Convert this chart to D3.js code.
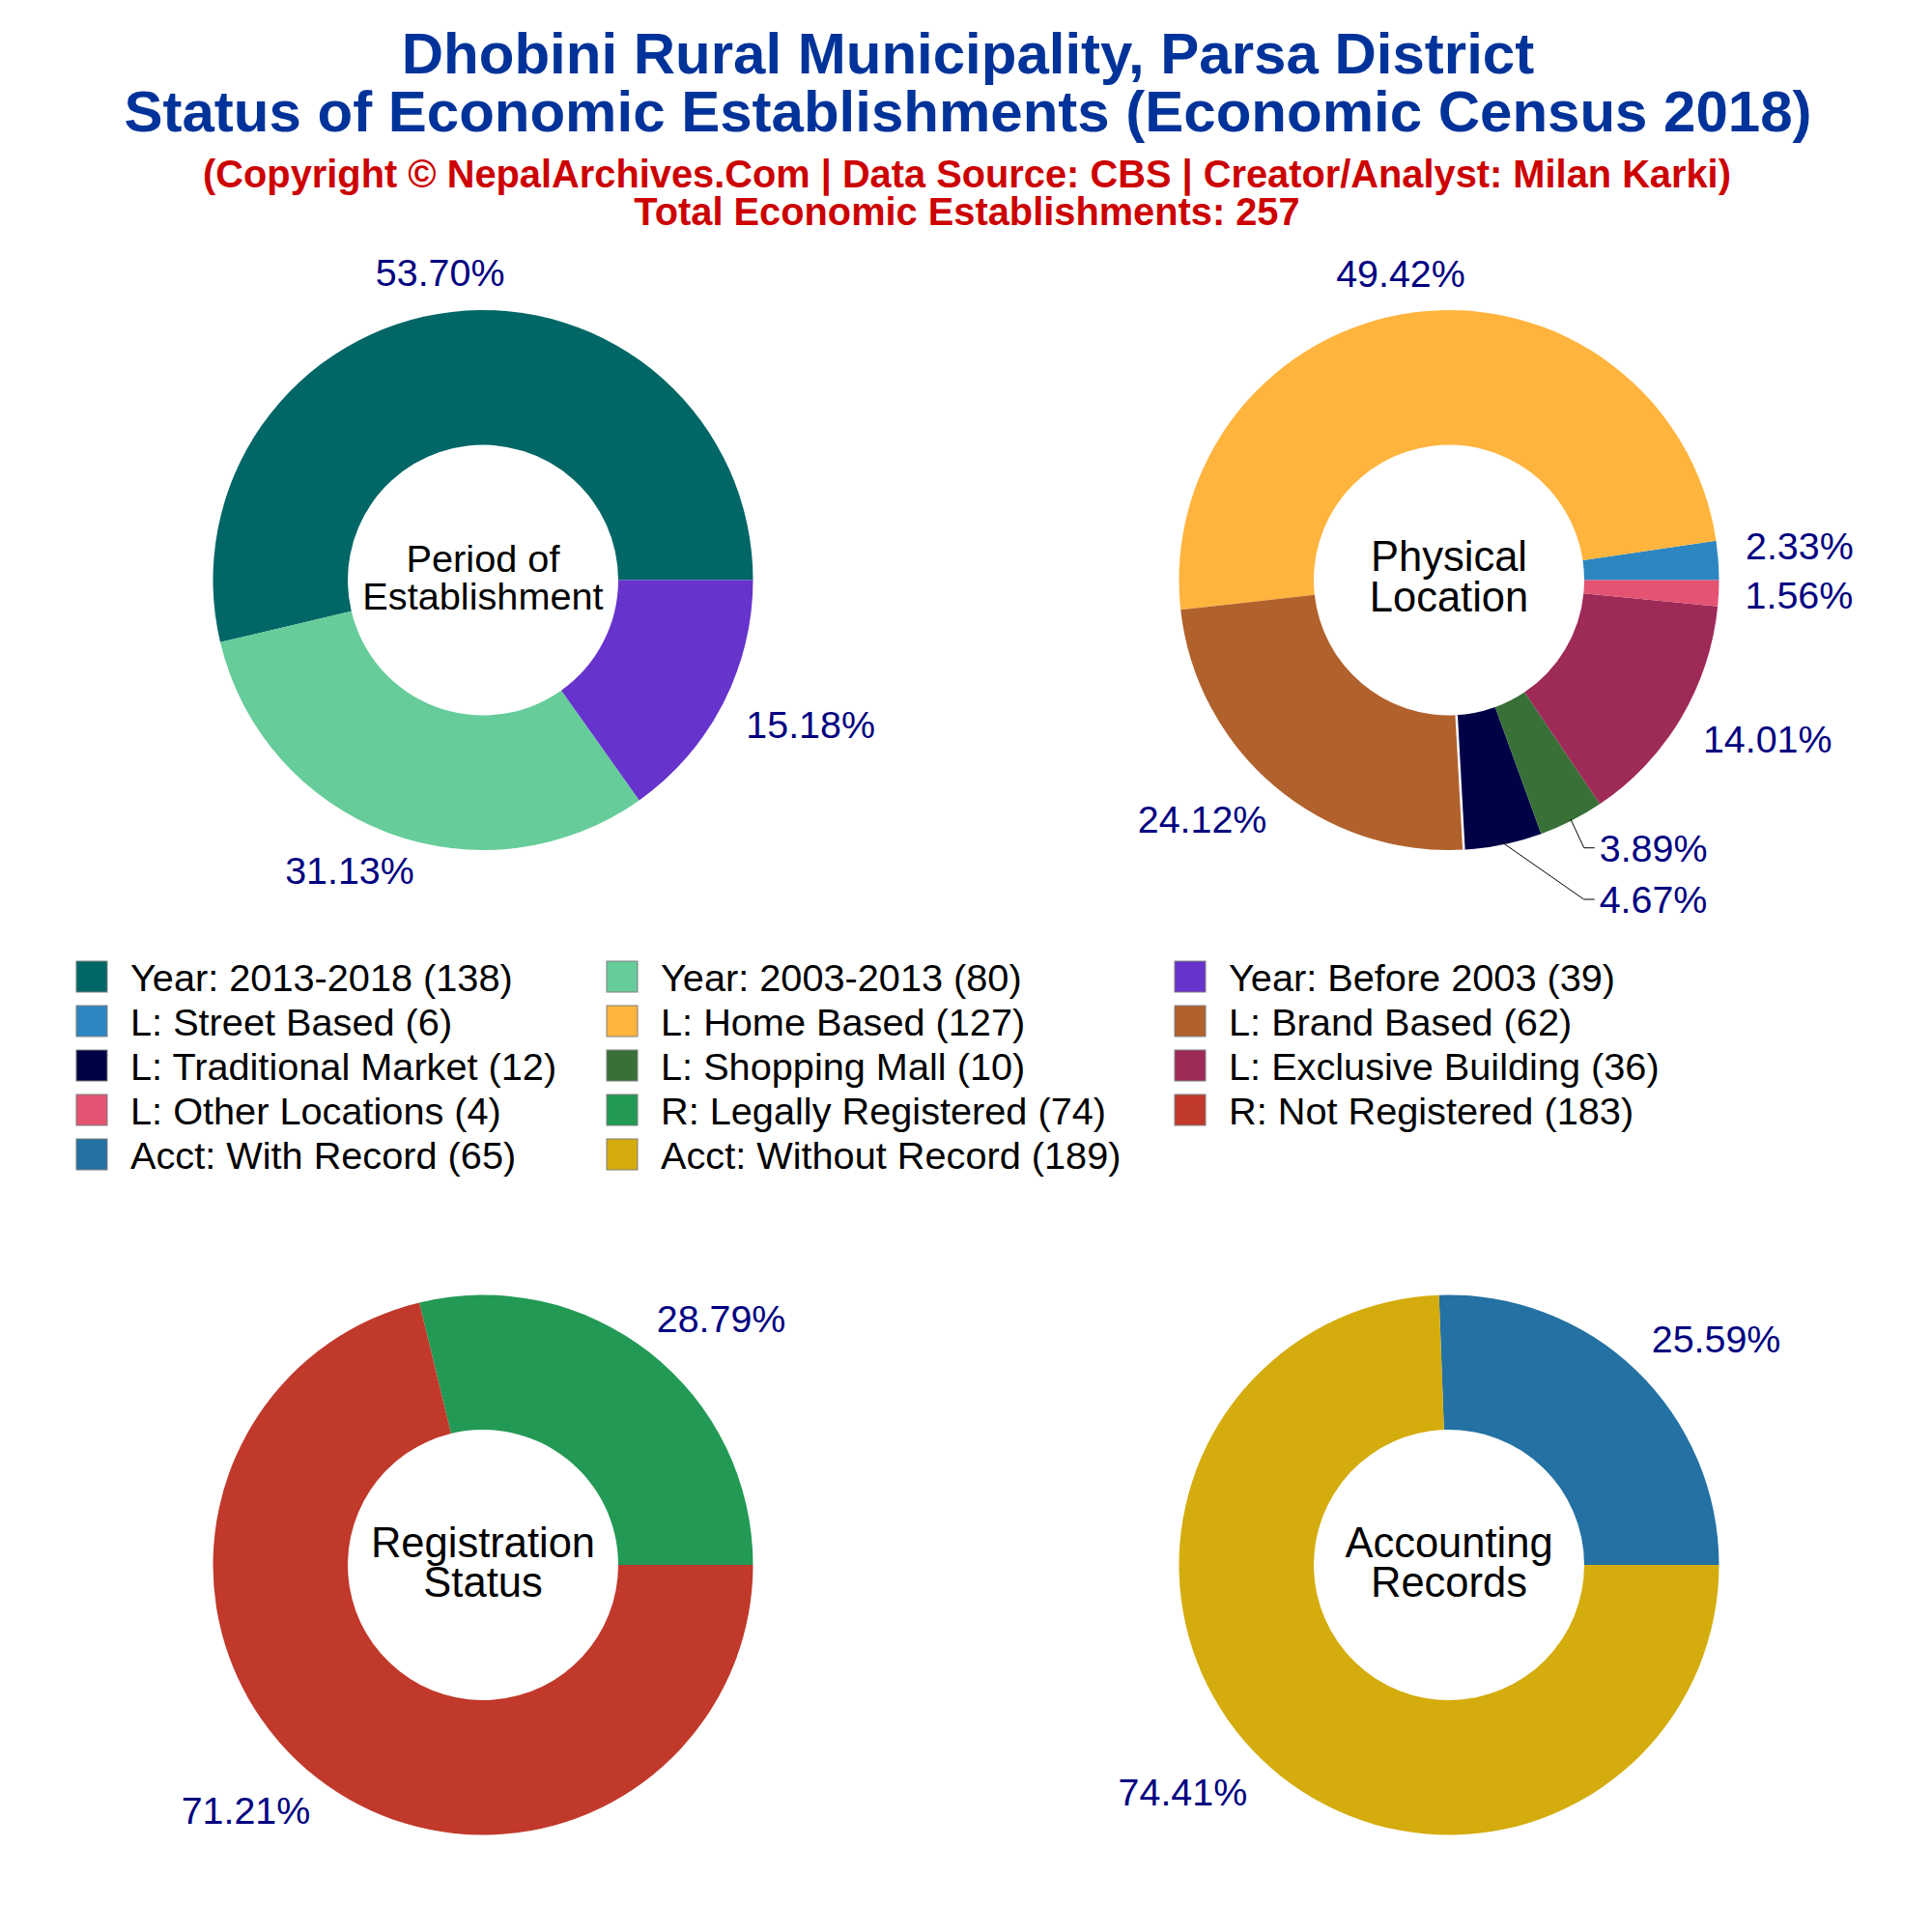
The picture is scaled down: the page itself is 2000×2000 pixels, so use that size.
<!DOCTYPE html>
<html>
<head>
<meta charset="utf-8">
<script src="https://cdn.jsdelivr.net/npm/d3@7"></script>
<style>
  html, body { margin: 0; padding: 0; background: #fff; }
  text { font-family: "Liberation Sans", Arial, sans-serif; }
</style>
</head>
<body>
<div id="chart"></div>
<script>
// Values
var titleLines = ['Dhobini Rural Municipality, Parsa District', 'Status of Economic Establishments (Economic Census 2018)'];
var subtitleLines = ['(Copyright \u00a9 NepalArchives.Com | Data Source: CBS | Creator/Analyst: Milan Karki)', 'Total Economic Establishments: 257'];

var periodNames = ['Year: 2013-2018', 'Year: 2003-2013', 'Year: Before 2003'];
var periodCounts = [138, 80, 39];
var periodColors = ['#006666', '#66cc99', '#6633cc'];

var locationNames = ['L: Street Based', 'L: Home Based', 'L: Brand Based', 'L: Traditional Market', 'L: Shopping Mall', 'L: Exclusive Building', 'L: Other Locations'];
var locationCounts = [6, 127, 62, 12, 10, 36, 4];
var locationColors = ['#2e86c1', '#ffb43e', '#b1612c', '#000146', '#387037', '#9e2a58', '#e45372'];

var registerNames = ['R: Legally Registered', 'R: Not Registered'];
var registerCounts = [74, 183];
var registerColors = ['#229955', '#c0392b'];

var accountNames = ['Acct: With Record', 'Acct: Without Record'];
var accountCounts = [65, 189];
var accountColors = ['#2471a3', '#d4ac0d'];

var WIDTH = 2000, HEIGHT = 2000;
var OUTER = 279.5, INNER = 140;
var LABEL_R = 316;   // anchor radius of the percent labels

var svg = d3.select('#chart').append('svg')
  .attr('width', WIDTH).attr('height', HEIGHT)
  .attr('viewBox', '0 0 ' + WIDTH + ' ' + HEIGHT)
  .style('display', 'block');

svg.append('rect').attr('width', WIDTH).attr('height', HEIGHT).attr('fill', '#fff');

// ── Titles ─────────────────────────────────────────────────────────────────────
var titleY = [76, 136];
var subY = [194, 233];

titleLines.forEach(function(line, i) {
  svg.append('text').attr('x', 1002).attr('y', titleY[i])
    .attr('text-anchor', 'middle').attr('font-weight', 'bold')
    .attr('font-size', 60).attr('fill', '#003399').text(line);
});
subtitleLines.forEach(function(line, i) {
  svg.append('text').attr('x', 1001).attr('y', subY[i])
    .attr('text-anchor', 'middle').attr('font-weight', 'bold')
    .attr('font-size', 39.8).attr('fill', '#cc0000').text(line);
});

// ── Donuts ─────────────────────────────────────────────────────────────────────
var pie = d3.pie().sort(null).value(function(d) { return d; })
  .startAngle(Math.PI / 2).endAngle(Math.PI / 2 - 2 * Math.PI);
var arc = d3.arc().innerRadius(INNER).outerRadius(OUTER);
var fmt = d3.format('.2f');

function drawDonut(opts) {
  var g = svg.append('g').attr('transform', 'translate(' + opts.cx + ',' + opts.cy + ')');
  var total = d3.sum(opts.counts);
  var arcs = pie(opts.counts);

  g.selectAll('path.slice').data(arcs).enter().append('path')
    .attr('class', 'slice')
    .attr('d', arc)
    .attr('fill', function(d, i) { return opts.colors[i]; });

  // thin white seam that shows on one slice edge in the original
  if (opts.seamAfter != null) {
    var a = arcs[opts.seamAfter].endAngle;
    g.append('line')
      .attr('x1', d3.pointRadial(a, INNER)[0]).attr('y1', d3.pointRadial(a, INNER)[1])
      .attr('x2', d3.pointRadial(a, OUTER)[0]).attr('y2', d3.pointRadial(a, OUTER)[1])
      .attr('stroke', '#fff').attr('stroke-width', 2.5);
  }

  arcs.forEach(function(d, i) {
    var mid = (d.startAngle + d.endAngle) / 2;
    var ux = Math.sin(mid), uy = -Math.cos(mid);
    var nudge = (opts.nudges && opts.nudges[i]) || [0, 0];

    var label = g.append('text')
      .attr('text-anchor', 'middle').attr('font-size', 39.4).attr('fill', '#000080')
      .attr('dy', '0.35em')
      .text(fmt(d.value / total * 100) + '%');

    // the label sits outside the ring, pushed out by its own half size
    var halfW = label.node().getComputedTextLength() / 2;
    var x = (LABEL_R + halfW) * ux + nudge[0];
    var y = (LABEL_R + 4) * uy + nudge[1];
    label.attr('x', x).attr('y', y);

    if (opts.leaders && opts.leaders[i]) {
      var left = x - halfW;
      g.append('path')
        .attr('d', d3.line()([
          d3.pointRadial(mid, OUTER - 2),
          [left - 16, y],
          [left - 5, y]
        ]))
        .attr('fill', 'none').attr('stroke', '#000').attr('stroke-width', 1);
    }
  });

  opts.center.forEach(function(line, i) {
    g.append('text')
      .attr('x', 0).attr('y', opts.centerY[i])
      .attr('text-anchor', 'middle').attr('font-size', opts.centerSize)
      .attr('fill', '#000').text(line);
  });
}

drawDonut({
  cx: 500, cy: 600.5, counts: periodCounts, colors: periodColors,
  center: ['Period of', 'Establishment'], centerSize: 39.7, centerY: [-9, 30],
  nudges: { 0: [0, 0], 1: [-3, 1], 2: [-1, 3] }
});
drawDonut({
  cx: 1500, cy: 600.5, counts: locationCounts, colors: locationColors,
  center: ['Physical', 'Location'], centerSize: 43.5, centerY: [-10, 32],
  seamAfter: 2,
  leaders: { 3: true, 4: true },
  nudges: { 0: [-8, -12], 1: [-1, 0], 2: [-8, 4], 3: [137, 17], 4: [43, -8], 5: [1, 1], 6: [-9, 0] }
});
drawDonut({
  cx: 500, cy: 1620, counts: registerCounts, colors: registerColors,
  center: ['Registration', 'Status'], centerSize: 43.5, centerY: [-8, 33],
  nudges: { 0: [10, -3], 1: [-9, 3] }
});
drawDonut({
  cx: 1500, cy: 1620, counts: accountCounts, colors: accountColors,
  center: ['Accounting', 'Records'], centerSize: 43.5, centerY: [-8, 33],
  nudges: { 0: [11, -3], 1: [-10, 5] }
});

// ── Legend ─────────────────────────────────────────────────────────────────────
var legendNames = periodNames.concat(locationNames, registerNames, accountNames);
var legendCounts = periodCounts.concat(locationCounts, registerCounts, accountCounts);
var legendColors = periodColors.concat(locationColors, registerColors, accountColors);

var columnX = [79, 628, 1216];
var ROW0 = 995, ROW_STEP = 46, SWATCH = 32;

var item = svg.selectAll('g.legend').data(legendNames).enter().append('g')
  .attr('class', 'legend')
  .attr('transform', function(d, i) {
    return 'translate(' + columnX[i % 3] + ',' + (ROW0 + Math.floor(i / 3) * ROW_STEP) + ')';
  });

item.append('rect')
  .attr('width', SWATCH).attr('height', SWATCH)
  .attr('fill', function(d, i) { return legendColors[i]; })
  .attr('stroke', '#7f7f7f').attr('stroke-width', 1);

item.append('text')
  .attr('x', 56).attr('y', 31)
  .attr('font-size', 39.7).attr('fill', '#000')
  .text(function(d, i) { return d + ' (' + legendCounts[i] + ')'; });
</script>
</body>
</html>
